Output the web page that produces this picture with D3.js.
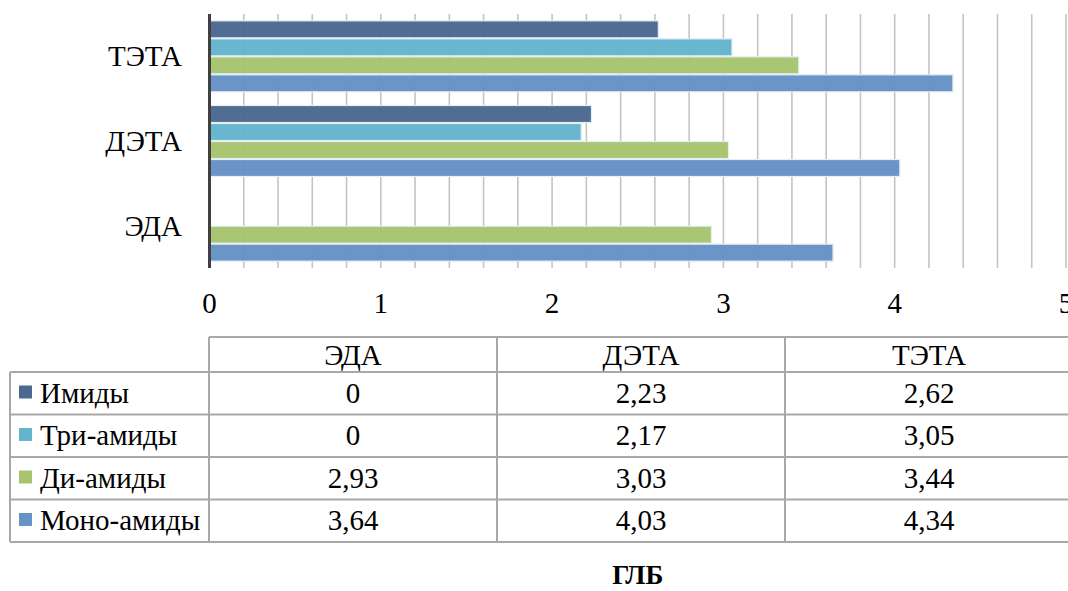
<!DOCTYPE html>
<html>
<head>
<meta charset="utf-8">
<script src="https://cdn.jsdelivr.net/npm/d3@7"></script>
<style>
  html, body { margin: 0; padding: 0; background: #fff; }
  svg { display: block; }
  svg text { font-family: "Times New Roman", "Liberation Serif", "DejaVu Serif", serif; }
</style>
</head>
<body>
<svg id="chart" width="1068" height="591"></svg>
<script>
// Amine categories (bottom to top in the chart, left to right in the table)
const categories = ["ЭДА", "ДЭТА", "ТЭТА"];
// Product series, in table order
const seriesNames = ["Имиды", "Три-амиды", "Ди-амиды", "Моно-амиды"];
const imides   = [0, 2.23, 2.62];
const triamides = [0, 2.17, 3.05];
const diamides = [2.93, 3.03, 3.44];
const monoamides = [3.64, 4.03, 4.34];
const xTicks = [0, 1, 2, 3, 4, 5];
const title = "ГЛБ";

const seriesValues = [imides, triamides, diamides, monoamides];
const colors = ["#4b6890", "#63b5cc", "#a8c46e", "#6692c6"];
const serif = '"Times New Roman", "Liberation Serif", "DejaVu Serif", serif';

const svg = d3.select("#chart");

const x = d3.scaleLinear().domain([0, 5]).range([209.5, 1066]);
const y = d3.scaleBand()
  .domain(categories.slice().reverse())
  .range([14, 268])
  .paddingInner(0.15)
  .paddingOuter(0.075);
const yInner = d3.scaleBand().domain(seriesNames).range([0, y.bandwidth()]);

// Vertical gridlines every 0.2
const gridVals = d3.range(1, 26).map(i => i * 0.2);
svg.append("g").selectAll("line").data(gridVals).join("line")
  .attr("x1", d => x(d)).attr("x2", d => x(d))
  .attr("y1", 14).attr("y2", 268)
  .attr("stroke", "#c4c4c4").attr("stroke-width", 1.6);

// Bars
const rows = [];
categories.forEach((c, ci) => {
  seriesNames.forEach((s, si) => rows.push({ c, s, si, v: seriesValues[si][ci] }));
});
svg.append("g").selectAll("rect").data(rows.filter(d => d.v > 0)).join("rect")
  .attr("x", x(0))
  .attr("y", d => y(d.c) + yInner(d.s) + 0.5)
  .attr("width", d => x(d.v) - x(0))
  .attr("height", yInner.bandwidth() - 1)
  .attr("fill", d => colors[d.si])
  .attr("fill-opacity", 0.97)
  .attr("stroke", "#e4eef6")
  .attr("stroke-width", 1.2);

// Category axis line
svg.append("line")
  .attr("x1", x(0)).attr("x2", x(0)).attr("y1", 14).attr("y2", 268)
  .attr("stroke", "#404040").attr("stroke-width", 3);

const txt = (sel) => sel.attr("font-family", serif).attr("fill", "#000");

// Category labels
svg.append("g").selectAll("text").data(categories).join("text")
  .call(txt)
  .attr("x", 182)
  .attr("y", d => y(d) + y.bandwidth() / 2)
  .attr("dy", "0.35em")
  .attr("text-anchor", "end")
  .attr("font-size", 29)
  .text(d => d);

// Value axis labels
svg.append("g").selectAll("text").data(xTicks).join("text")
  .call(txt)
  .attr("x", d => x(d))
  .attr("y", 313)
  .attr("text-anchor", "middle")
  .attr("font-size", 29)
  .text(d => d);

// Data table
const fmt = v => (v === 0 ? "0" : d3.format(".2f")(v).replace(".", ","));
const colX = [10, 209, 497, 785, 1073];
const headTop = 337, rowTop = 372, rowH = 42.5;
const tbl = svg.append("g");
const lineColor = "#a8a8a8";
tbl.append("line").attr("x1", colX[1]).attr("x2", colX[4]).attr("y1", headTop).attr("y2", headTop)
  .attr("stroke", lineColor).attr("stroke-width", 2);
d3.range(5).forEach(i => {
  tbl.append("line").attr("x1", colX[0]).attr("x2", colX[4])
    .attr("y1", rowTop + i * rowH).attr("y2", rowTop + i * rowH)
    .attr("stroke", lineColor).attr("stroke-width", 2);
});
tbl.append("line").attr("x1", colX[0]).attr("x2", colX[0]).attr("y1", rowTop).attr("y2", rowTop + 4 * rowH)
  .attr("stroke", lineColor).attr("stroke-width", 2);
[1, 2, 3, 4].forEach(i => {
  tbl.append("line").attr("x1", colX[i]).attr("x2", colX[i]).attr("y1", headTop).attr("y2", rowTop + 4 * rowH)
    .attr("stroke", lineColor).attr("stroke-width", 2);
});
// header
categories.forEach((c, ci) => {
  tbl.append("text").call(txt).attr("x", (colX[ci + 1] + colX[ci + 2]) / 2).attr("y", headTop + 28)
    .attr("text-anchor", "middle").attr("font-size", 29).text(c);
});
// rows with legend keys
seriesNames.forEach((s, si) => {
  const ty = rowTop + si * rowH + 30.5;
  tbl.append("rect").attr("x", 19).attr("y", ty - 17).attr("width", 13).attr("height", 13)
    .attr("fill", colors[si]);
  tbl.append("text").call(txt).attr("x", 40).attr("y", ty).attr("font-size", 29).text(s);
  categories.forEach((c, ci) => {
    tbl.append("text").call(txt).attr("x", (colX[ci + 1] + colX[ci + 2]) / 2).attr("y", ty)
      .attr("text-anchor", "middle").attr("font-size", 29)
      .text(fmt(seriesValues[si][ci]));
  });
});

// Title
svg.append("text").call(txt).attr("x", (x(0) + x(5)) / 2).attr("y", 584)
  .attr("text-anchor", "middle").attr("font-size", 27).attr("font-weight", "bold")
  .text(title);
</script>
</body>
</html>
